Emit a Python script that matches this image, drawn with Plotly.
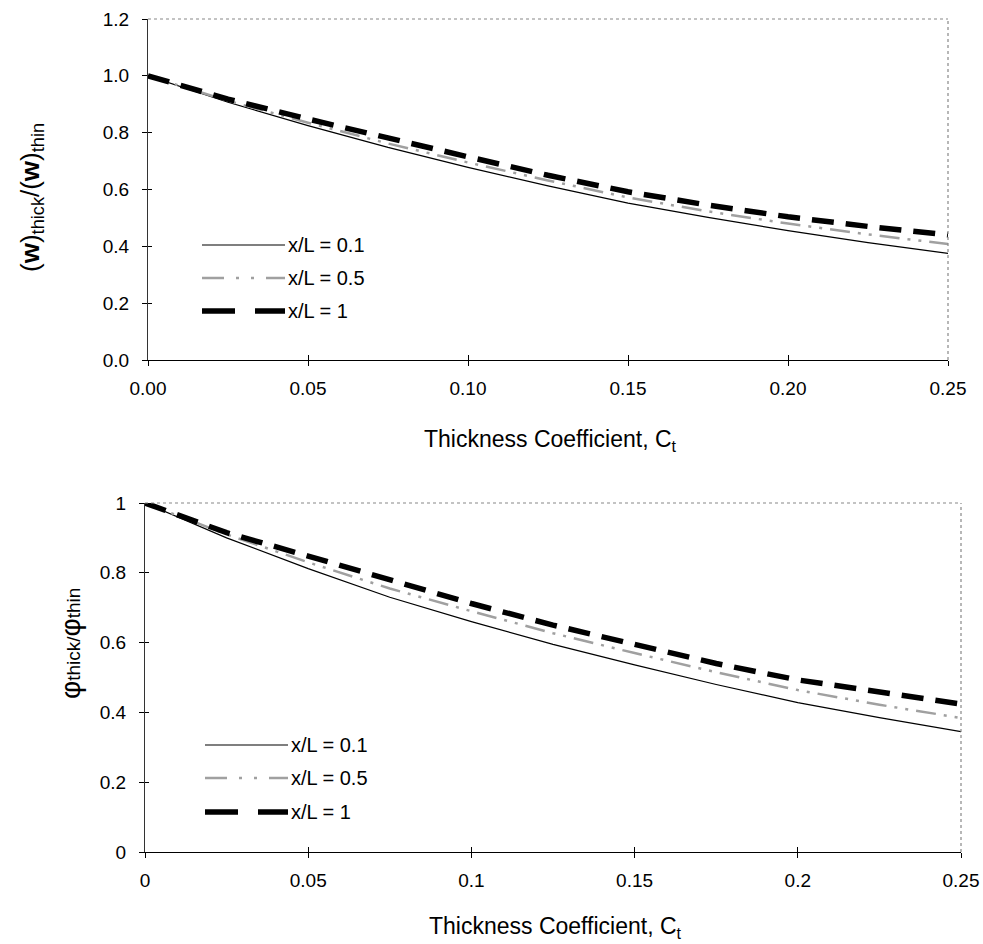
import plotly.graph_objects as go

# Thickness coefficient samples
ct = [0.0, 0.025, 0.05, 0.075, 0.10, 0.125, 0.15, 0.175, 0.20, 0.225, 0.25]

# Deflection ratio (w)thick/(w)thin
w_xl01 = [1.0, 0.907, 0.825, 0.748, 0.678, 0.613, 0.552, 0.502, 0.455, 0.413, 0.375]
w_xl05 = [1.0, 0.912, 0.835, 0.762, 0.695, 0.632, 0.572, 0.523, 0.480, 0.442, 0.408]
w_xl10 = [1.0, 0.918, 0.848, 0.780, 0.715, 0.650, 0.592, 0.545, 0.504, 0.470, 0.440]

# Rotation ratio phi_thick/phi_thin
p_xl01 = [1.0, 0.900, 0.812, 0.730, 0.660, 0.595, 0.536, 0.480, 0.428, 0.385, 0.345]
p_xl05 = [1.0, 0.910, 0.830, 0.755, 0.690, 0.627, 0.570, 0.515, 0.464, 0.422, 0.384]
p_xl10 = [1.0, 0.915, 0.848, 0.780, 0.712, 0.650, 0.593, 0.540, 0.493, 0.457, 0.424]

series_names = ["x/L = 0.1", "x/L = 0.5", "x/L = 1"]

top_xticks = [0.0, 0.05, 0.10, 0.15, 0.20, 0.25]
top_yticks = [0.0, 0.2, 0.4, 0.6, 0.8, 1.0, 1.2]
bot_xticks = [0, 0.05, 0.1, 0.15, 0.2, 0.25]
bot_yticks = [0, 0.2, 0.4, 0.6, 0.8, 1]

W, H = 983, 944
FONT = "Liberation Sans, Arial, sans-serif"

styles = [
    dict(color="black", width=1.2, dash="solid"),
    dict(color="#a0a0a0", width=2.5, dash="20px,8px,3px,8px,3px,8px"),
    dict(color="black", width=5.5, dash="22px,12px"),
]
# longer dash rhythm used for the key samples
key_dashes = ["solid", "22px,12px,3px,12px,3px,12px", "33px,20px"]


def px_x(p):
    return p / W


def px_y(p):
    return 1 - p / H


fig = go.Figure()

for ys, st, nm in zip([w_xl01, w_xl05, w_xl10], styles, series_names):
    fig.add_trace(go.Scatter(x=ct, y=ys, mode="lines", line=st, name=nm,
                             showlegend=False, xaxis="x", yaxis="y"))
for ys, st, nm in zip([p_xl01, p_xl05, p_xl10], styles, series_names):
    fig.add_trace(go.Scatter(x=ct, y=ys, mode="lines", line=st, name=nm,
                             showlegend=False, xaxis="x2", yaxis="y2"))

top_dx = [px_x(148), px_x(948)]
top_dy = [px_y(360), px_y(19)]
bot_dx = [px_x(145), px_x(961)]
bot_dy = [px_y(852), px_y(503)]

tickfont = dict(family=FONT, size=19, color="black")

common = dict(showgrid=False, zeroline=False, ticks="outside", ticklen=5,
              tickcolor="black", tickfont=tickfont, automargin=False)
inner = dict(ticks="inside", tickcolor="black", showticklabels=False,
             showgrid=False, zeroline=False, showline=False, automargin=False)

fig.update_layout(
    width=W, height=H,
    margin=dict(l=0, r=0, t=0, b=0, autoexpand=False),
    paper_bgcolor="white", plot_bgcolor="white",
    showlegend=False,
    xaxis=dict(domain=top_dx, anchor="y", range=[0, 0.25], tickvals=top_xticks,
               ticktext=[f"{v:.2f}" for v in top_xticks], showline=True,
               linecolor="black", linewidth=1, ticklabelstandoff=6, **common),
    yaxis=dict(domain=top_dy, anchor="x", range=[0, 1.2], tickvals=top_yticks,
               ticktext=[f"{v:.1f}" for v in top_yticks], showline=True,
               linecolor="#333333", linewidth=1, ticklabelstandoff=9, **common),
    xaxis2=dict(domain=bot_dx, anchor="y2", range=[0, 0.25], tickvals=bot_xticks,
                ticktext=[f"{v:g}" for v in bot_xticks], showline=True,
                linecolor="black", linewidth=1, ticklabelstandoff=6, **common),
    yaxis2=dict(domain=bot_dy, anchor="x2", range=[0, 1], tickvals=bot_yticks,
                ticktext=[f"{v:g}" for v in bot_yticks], showline=True,
                linecolor="#333333", linewidth=1, ticklabelstandoff=9, **common),
    # inner halves of the crossing tick marks
    xaxis3=dict(overlaying="x", anchor="y", range=[0, 0.25], tickvals=top_xticks,
                ticklen=5, **inner),
    yaxis3=dict(overlaying="y", anchor="x", range=[0, 1.2], tickvals=top_yticks,
                ticklen=4, **inner),
    xaxis4=dict(overlaying="x2", anchor="y2", range=[0, 0.25], tickvals=bot_xticks,
                ticklen=5, **inner),
    yaxis4=dict(overlaying="y2", anchor="x2", range=[0, 1], tickvals=bot_yticks,
                ticklen=4, **inner),
)

# empty traces so the overlay axes are drawn
fig.add_trace(go.Scatter(x=[None], y=[None], xaxis="x3", yaxis="y3", showlegend=False))
fig.add_trace(go.Scatter(x=[None], y=[None], xaxis="x4", yaxis="y4", showlegend=False))

shapes = []
# dotted grey frame on the top and right sides of each plot area
for xr, yr in [("x domain", "y domain"), ("x2 domain", "y2 domain")]:
    shapes.append(dict(type="line", xref=xr, yref=yr, x0=0, x1=1, y0=1, y1=1,
                       line=dict(color="#888888", width=1.2, dash="dot")))
    shapes.append(dict(type="line", xref=xr, yref=yr, x0=1, x1=1, y0=0, y1=1,
                       line=dict(color="#888888", width=1.2, dash="dot")))

annotations = []
# in-plot keys
for rows, x0, x1 in [([245, 278, 311], 202, 285), ([745, 778, 812], 205, 288)]:
    for yp, st, kd, nm in zip(rows, styles, key_dashes, series_names):
        shapes.append(dict(type="line", xref="paper", yref="paper",
                           x0=px_x(x0), x1=px_x(x1), y0=px_y(yp), y1=px_y(yp),
                           line=dict(color=st["color"], width=st["width"], dash=kd)))
        annotations.append(dict(text=nm, xref="paper", yref="paper",
                                x=px_x(x1 + 1), y=px_y(yp), xanchor="left",
                                yanchor="middle", showarrow=False,
                                font=dict(family=FONT, size=20, color="black")))

title_font = dict(family=FONT, size=23, color="black")
annotations += [
    dict(text="Thickness Coefficient, C<sub>t</sub>", xref="paper", yref="paper",
         x=px_x(550), y=px_y(440), xanchor="center", yanchor="middle",
         showarrow=False, font=title_font),
    dict(text="Thickness Coefficient, C<sub>t</sub>", xref="paper", yref="paper",
         x=px_x(555), y=px_y(927), xanchor="center", yanchor="middle",
         showarrow=False, font=title_font),
    dict(text="(<b>w</b>)<sub>thick</sub>/(<b>w</b>)<sub>thin</sub>",
         xref="paper", yref="paper", x=px_x(31), y=px_y(198), xanchor="center",
         yanchor="middle", textangle=-90, showarrow=False,
         font=dict(family=FONT, size=26, color="black")),
    dict(text="<span style='font-size:28px'>φ</span>thick/<span style='font-size:28px'>φ</span>thin",
         xref="paper", yref="paper", x=px_x(70), y=px_y(644), xanchor="center",
         yanchor="middle", textangle=-90, showarrow=False,
         font=dict(family=FONT, size=19, color="black")),
]

fig.update_layout(shapes=shapes, annotations=annotations)

fig.write_html("out.html")
